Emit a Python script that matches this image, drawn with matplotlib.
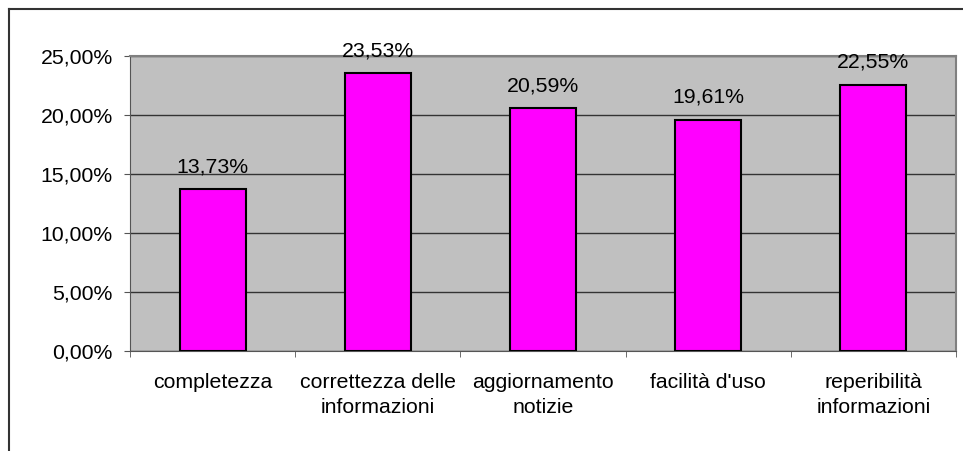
import matplotlib.pyplot as plt
from matplotlib.lines import Line2D
from matplotlib.ticker import FuncFormatter, MultipleLocator

categorie = ["completezza", "correttezza delle\ninformazioni", "aggiornamento\nnotizie",
             "facilità d'uso", "reperibilità\ninformazioni"]
valori = [13.73, 23.53, 20.59, 19.61, 22.55]

plt.rcParams['font.family'] = ['Liberation Sans', 'DejaVu Sans']
fs = 15.3

fig = plt.figure(figsize=(9.63, 4.51), dpi=100)
W, H = 963, 451
ax = fig.add_axes([130 / W, 1 - 351 / H, (956 - 130) / W, (351 - 56) / H])
ax.set_facecolor('#c0c0c0')

x = list(range(len(categorie)))
ax.bar(x, valori, width=0.4, color='#ff00ff', edgecolor='black', linewidth=1.5, zorder=3)
for xi, v in zip(x, valori):
    ax.text(xi, v + 1.1, f"{v:.2f}%".replace('.', ','), ha='center', va='bottom',
            fontsize=fs, color='black')

ax.set_xlim(-0.5, len(categorie) - 0.5)
ax.set_ylim(0, 25)
ax.yaxis.set_major_locator(MultipleLocator(5))
ax.yaxis.set_major_formatter(FuncFormatter(lambda v, p: f"{v:.2f}%".replace('.', ',')))
ax.yaxis.grid(True, color='#333333', linewidth=1, zorder=1)
ax.set_axisbelow(True)

ax.set_xticks(x)
ax.set_xticklabels(categorie, fontsize=fs, linespacing=1.37)
ax.set_xticks([i - 0.5 for i in range(len(categorie) + 1)], minor=True)
ax.tick_params(axis='x', which='major', length=0, pad=16)
ax.tick_params(axis='x', which='minor', length=4.3, color='#555555', direction='out')
ax.tick_params(axis='y', length=4.3, color='#555555', labelsize=fs, pad=8)

for s in ['top', 'right']:
    ax.spines[s].set_color('#808080')
    ax.spines[s].set_linewidth(1.5)
ax.spines['left'].set_color('#555555')
ax.spines['bottom'].set_color('#555555')

# bordo esterno del grafico
fig.add_artist(Line2D([9 / W, 9 / W], [0, 1 - 9 / H], transform=fig.transFigure,
                      color='#333333', linewidth=1.5))
fig.add_artist(Line2D([9 / W, 1], [1 - 9 / H, 1 - 9 / H], transform=fig.transFigure,
                      color='#333333', linewidth=1.5))

fig.savefig('out.png', dpi=100)
